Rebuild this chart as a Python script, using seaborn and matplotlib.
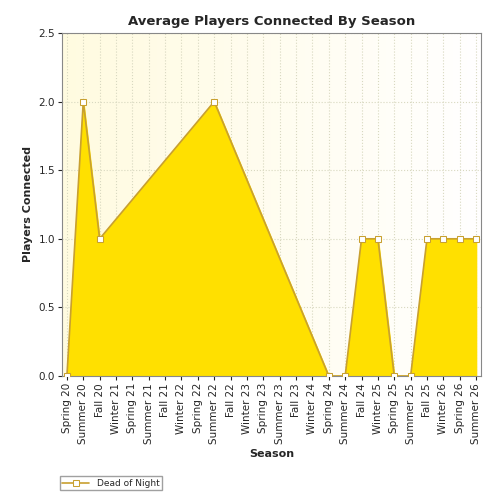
import matplotlib
matplotlib.use("Agg")
import matplotlib.pyplot as plt
import seaborn as sns
import numpy as np
import pandas as pd
from matplotlib.colors import LinearSegmentedColormap

categories = ["Spring 20","Summer 20","Fall 20","Winter 21","Spring 21","Summer 21","Fall 21",
              "Winter 22","Spring 22","Summer 22","Fall 22","Winter 23","Spring 23","Summer 23",
              "Fall 23","Winter 24","Spring 24","Summer 24","Fall 24","Winter 25","Spring 25",
              "Summer 25","Fall 25","Winter 26","Spring 26","Summer 26"]
point_seasons = ["Spring 20","Summer 20","Fall 20","Summer 22","Spring 24","Summer 24","Fall 24",
                 "Winter 25","Spring 25","Summer 25","Fall 25","Winter 26","Spring 26","Summer 26"]
point_values = [0,2,1,2,0,0,1,1,0,0,1,1,1,1]

df = pd.DataFrame({"Season": point_seasons, "Players": point_values})
df["x"] = [categories.index(s) for s in df["Season"]]

sns.set_style("white")
fig = plt.figure(figsize=(5,5), dpi=100)
ax = fig.add_axes([0.124, 0.248, 0.838, 0.686])

grad = np.linspace(0,1,256).reshape(1,-1)
bg = LinearSegmentedColormap.from_list("bg", ["#fffbe0", "#ffffff"])
ax.imshow(grad, extent=[-0.3, 25.3, 0, 2.5], aspect="auto", cmap=bg, zorder=0)

ax.fill_between(df["x"], df["Players"], color="#ffe000", zorder=1)
sns.lineplot(data=df, x="x", y="Players", ax=ax, color="#c8a030", lw=1.2,
             marker="s", markersize=5, markerfacecolor="white", markeredgecolor="#c8a030",
             label="Dead of Night", zorder=3)

ax.set_xlim(-0.3, 25.3)
ax.set_ylim(0, 2.5)
ax.set_xticks(range(len(categories)))
ax.set_xticklabels(categories, rotation=90, fontsize=7.5)
ax.set_yticks([0,0.5,1,1.5,2,2.5])
ax.set_yticklabels(["0.0","0.5","1.0","1.5","2.0","2.5"], fontsize=7.5)
ax.tick_params(axis="both", length=3, direction="out", bottom=True, left=True, pad=2)
ax.grid(True, color="#d8d8c0", ls=":", lw=0.8, zorder=0)
ax.set_axisbelow(True)
for s in ax.spines.values():
    s.set_color("#888888"); s.set_linewidth(0.8)
ax.set_title("Average Players Connected By Season", fontsize=9.5, fontweight="bold")
ax.set_xlabel("Season", fontsize=8, fontweight="bold")
ax.set_ylabel("Players Connected", fontsize=8, fontweight="bold")
fig.legend(*ax.get_legend_handles_labels(), loc="lower left", bbox_to_anchor=(0.11, 0.01),
           fontsize=6.5, frameon=True, fancybox=False, edgecolor="#888888", handlelength=3,
           borderpad=0.3)
ax.get_legend().remove()
fig.savefig("out.png", dpi=100)
